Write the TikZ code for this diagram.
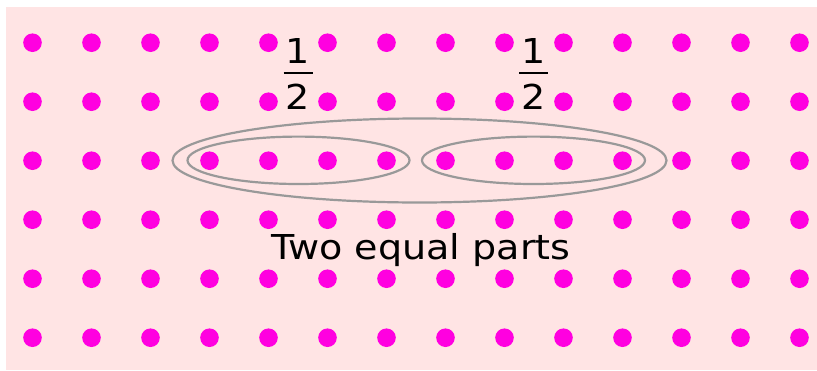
\documentclass[tikz,border=0pt]{standalone}
\usepackage{fontspec}
\setmainfont{DejaVu Sans}
\newfontfamily\widesans[FakeStretch=1.11]{DejaVu Sans}
\definecolor{bgpink}{HTML}{FFE4E4}
\definecolor{dotmag}{HTML}{FF00E0}
\definecolor{ringgray}{HTML}{999999}
\tikzset{
  dotsty/.style={fill=dotmag},
  ringsty/.style={draw=ringgray, line width=2.2pt},
  lbl/.style={inner sep=0pt, anchor=base, font=\widesans\fontsize{34.3}{40}\selectfont},
  barsty/.style={line width=2.4pt, black}
}
\begin{document}
\begin{tikzpicture}[x=1pt,y=-1pt]
\useasboundingbox (0,0) rectangle (817,370);
\fill[bgpink] (6,7) rectangle (817,370);
\foreach \i in {0,...,13} {
  \foreach \j in {0,...,5} {
    \fill[dotsty] (32.5+59*\i, 42.7+59*\j) circle (9.3);
  }
}
\draw[ringsty] (419.5,160.5) ellipse [x radius=247, y radius=42];
\draw[ringsty] (298.5,160.3) ellipse [x radius=111, y radius=23.7];
\draw[ringsty] (533.5,160.3) ellipse [x radius=111.5, y radius=23.7];
% fractions
\node[lbl] (n1) at (298,63.3) {1};
\node[lbl] (d1) at (298,109) {2};
\draw[barsty] (283.5,72.7) -- (312.5,72.7);
\node[lbl] (n2) at (533.5,63.3) {1};
\node[lbl] (d2) at (533.5,109) {2};
\draw[barsty] (519,72.7) -- (548,72.7);
\node[lbl] (title) at (421,259.3) {Two equal parts};
\end{tikzpicture}
\end{document}
